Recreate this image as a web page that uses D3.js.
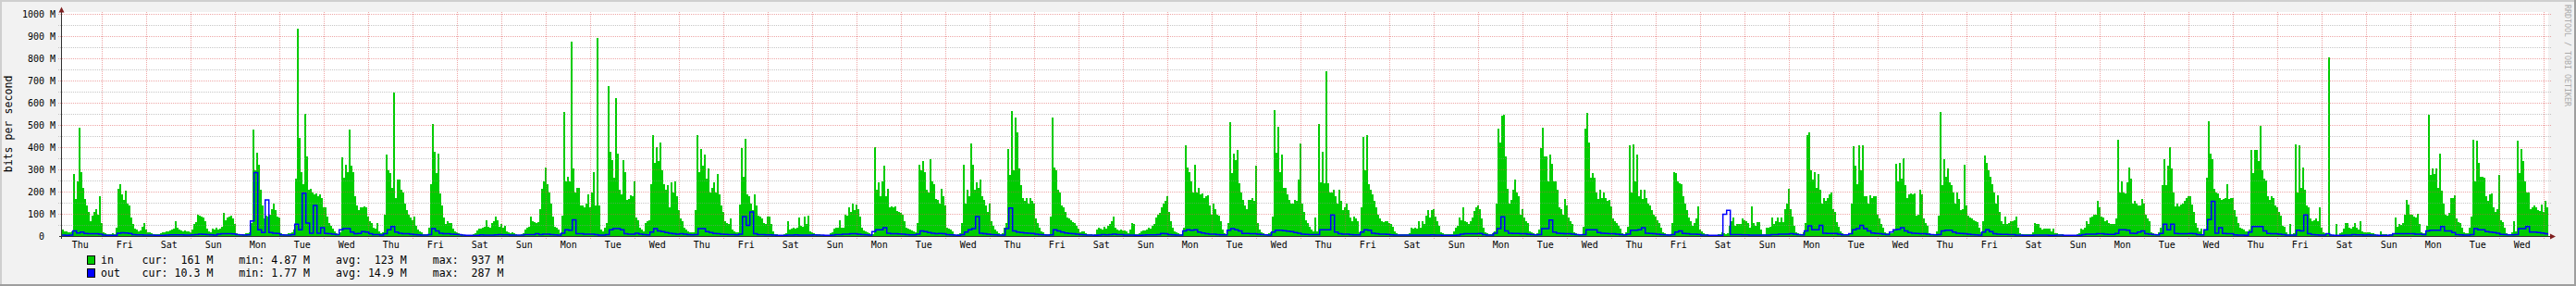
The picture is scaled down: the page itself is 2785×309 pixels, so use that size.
<!DOCTYPE html>
<html>
<head>
<meta charset="utf-8">
<style>
body { margin: 0; background: #f2f2f2; }
svg { display: block; font-family: "DejaVu Sans Mono", monospace; }
</style>
</head>
<body>
<svg width="2785" height="309"></svg>
<script src="https://cdn.jsdelivr.net/npm/d3@7"></script>
<script>
// hourly "in" traffic, Mbit/s, one row per day starting Thursday 00:00
var inTraffic = [
  [20,25,30,25,22,20,20,25,280,170,250,490,290,220,170,140,110,70,95,110,125,100,180,60],
  [20,15,12,10,12,15,12,40,215,235,190,165,205,150,140,85,55,35,30,25,28,45,60,30],
  [20,18,15,12,10,10,12,15,18,20,22,25,28,30,35,70,40,30,28,25,28,25,22,20],
  [30,55,65,100,95,90,85,70,35,25,20,35,30,40,30,35,45,105,75,85,90,95,80,55],
  [15,12,10,10,12,15,15,20,60,480,300,378,325,210,140,80,95,90,100,125,150,120,90,85],
  [15,12,10,12,15,15,20,30,260,937,445,290,235,553,360,210,215,200,190,195,180,190,175,130],
  [130,90,60,50,35,25,15,12,20,355,265,325,290,480,320,290,180,140,120,130,130,135,130,90],
  [70,60,40,35,60,25,15,20,100,370,300,285,220,650,175,255,255,210,200,150,120,100,85,75],
  [90,50,30,25,20,12,10,10,40,235,505,380,285,375,195,140,85,55,70,60,60,35,25,18],
  [15,12,10,8,6,6,6,8,12,15,28,35,35,40,45,75,45,40,60,70,90,75,45,55],
  [40,50,25,20,15,20,15,10,8,8,10,15,30,40,45,90,70,65,60,65,125,215,250,310],
  [235,200,150,90,45,40,30,15,95,560,250,270,250,878,305,200,220,220,140,140,130,150,190,130],
  [200,290,140,893,140,30,25,40,60,678,380,345,265,625,375,210,190,345,290,165,170,185,180,250],
  [85,75,40,30,25,60,70,75,235,458,333,403,340,423,300,235,210,230,130,245,200,250,180,120],
  [80,70,40,30,25,20,20,20,120,455,290,395,320,368,260,308,200,220,245,200,280,190,140,110],
  [70,60,55,80,30,25,20,20,145,400,270,441,190,180,150,120,190,140,95,90,80,60,55,90],
  [90,55,25,12,10,8,8,8,10,15,70,30,35,40,35,40,85,50,45,90,55,92,25,20],
  [14,12,10,10,7,6,6,6,8,15,20,35,40,40,75,40,40,97,95,130,110,150,120,145],
  [125,90,40,28,25,20,15,12,10,403,210,245,180,250,320,180,215,130,135,130,135,115,110,105],
  [100,70,40,35,30,28,25,20,60,325,300,340,290,210,200,350,250,235,170,165,150,215,180,140],
  [40,35,30,25,12,8,10,15,60,325,150,210,180,420,325,210,245,220,255,180,165,140,110,150],
  [70,50,30,25,15,12,15,40,60,395,278,563,300,537,470,305,230,175,160,175,150,175,160,150],
  [80,60,40,25,20,12,10,12,90,537,312,300,210,200,140,130,110,85,80,75,65,60,50,35],
  [20,25,22,15,12,10,10,8,10,30,40,35,30,45,35,50,55,70,90,40,30,28,30,28],
  [28,25,15,30,62,55,12,10,15,25,28,28,30,40,35,50,58,85,100,105,130,150,160,180],
  [110,70,40,25,20,15,12,10,40,410,312,290,250,200,325,200,218,190,195,175,180,185,140,100],
  [150,125,100,95,70,30,15,12,60,515,285,375,345,390,240,200,165,140,125,165,165,175,160,320],
  [60,30,20,15,12,12,15,20,90,570,378,493,290,368,220,220,190,165,150,150,165,160,255,417],
  [150,110,75,60,45,30,25,85,25,505,245,380,240,743,240,200,200,210,180,150,210,160,120,130],
  [150,120,85,70,90,80,70,20,130,447,300,458,235,210,190,160,130,100,80,70,65,70,70,60],
  [55,45,25,15,12,12,12,12,10,12,15,40,35,40,35,70,40,70,55,95,118,85,120,125],
  [90,70,50,20,15,12,10,10,10,12,25,40,50,85,75,130,70,65,55,70,85,115,130,140],
  [125,80,40,20,15,12,10,15,25,150,486,423,545,548,361,215,150,165,210,257,200,180,100,125],
  [85,70,60,25,18,15,12,15,30,400,490,360,360,250,370,326,250,250,210,130,125,100,170,140],
  [85,70,55,20,14,12,12,12,45,486,558,425,265,285,265,200,170,210,175,200,175,160,165,135],
  [80,70,60,50,35,14,12,20,45,410,200,414,250,370,180,210,170,210,175,150,140,120,100,90],
  [75,60,40,20,14,12,12,12,60,290,285,250,240,235,180,150,120,85,70,50,60,80,136,30],
  [25,15,12,10,8,8,8,8,8,10,12,20,15,12,15,50,70,85,50,55,55,55,80,75],
  [70,60,40,136,60,50,65,65,30,12,12,40,40,45,85,55,70,85,65,85,65,125,150,213],
  [125,90,50,20,14,12,12,20,60,458,470,300,257,290,220,280,210,150,175,160,175,190,200,125],
  [110,65,45,25,14,12,12,10,12,150,407,320,235,412,300,412,180,180,150,187,175,180,180,100],
  [80,55,40,20,15,15,15,15,30,326,250,330,260,354,230,175,190,195,190,195,95,100,210,190],
  [80,60,50,15,12,12,12,25,95,560,230,348,270,305,245,230,200,150,200,170,120,125,323,140],
  [95,85,80,75,70,65,40,20,70,365,330,300,270,235,200,150,187,110,70,55,90,55,60,70],
  [70,75,90,40,15,10,10,10,10,10,12,20,62,55,55,40,30,35,35,35,35,25,35,15],
  [14,12,12,10,8,8,8,8,8,8,8,10,14,35,30,40,70,55,86,90,97,100,162,130],
  [90,85,70,75,60,55,55,55,80,437,200,250,200,195,245,312,260,150,160,150,140,140,170,150],
  [100,80,70,20,14,12,12,20,40,230,347,230,320,403,305,200,135,150,135,145,150,160,175,180],
  [180,145,110,60,40,25,35,12,30,265,517,375,350,215,200,195,175,165,170,175,235,170,175,175],
  [120,90,60,40,35,30,25,25,30,390,285,390,390,340,496,300,260,253,183,165,183,175,140,130],
  [110,95,50,45,20,12,58,12,15,414,200,410,220,312,210,140,132,80,70,75,80,70,132,40],
  [20,15,12,808,10,8,8,58,8,15,20,35,60,60,40,35,45,62,40,30,70,25,20,20],
  [20,18,15,15,12,8,8,25,12,10,10,8,12,10,15,86,45,55,52,60,97,165,145,100],
  [100,90,85,104,55,20,15,15,50,546,278,305,280,305,220,372,208,150,100,95,105,175,175,187],
  [80,65,60,40,20,15,15,40,90,437,250,430,333,270,270,265,180,160,190,195,130,110,125,278],
  [75,65,40,15,12,12,20,70,25,430,285,392,340,250,200,200,125,130,140,130,120,115,145,110],
  [160,130,161]
];

// two-hourly "out" traffic, Mbit/s
var outTraffic = [
  [6,6,5,6,25,16,20,14,12,13,12,10],
  [6,5,5,5,15,17,16,14,8,7,7,6],
  [6,6,5,5,5,6,7,7,7,7,6,6],
  [7,8,10,9,8,7,6,10,12,12,12,11],
  [8,7,6,7,70,287,30,18,165,18,15,14],
  [7,6,6,8,55,30,195,60,15,140,15,40],
  [14,12,10,8,30,35,35,20,12,14,22,20],
  [12,8,8,6,12,30,45,20,15,12,12,10],
  [8,7,6,6,8,35,25,15,13,12,10,9],
  [8,6,5,5,5,5,7,6,6,6,7,8],
  [7,7,6,6,6,6,8,8,8,12,8,10],
  [10,8,7,6,15,30,28,75,12,12,10,10],
  [10,8,6,6,8,30,35,35,30,12,10,10],
  [15,10,8,7,20,35,25,22,18,15,12,10],
  [12,10,8,7,8,35,35,22,18,14,12,10],
  [9,8,8,7,10,90,50,110,12,8,8,7],
  [7,6,5,5,5,6,6,7,6,6,6,6],
  [7,6,6,5,5,6,8,8,10,10,12,12],
  [10,8,7,6,22,30,30,40,15,12,12,11],
  [10,8,7,7,10,25,22,18,15,12,14,12],
  [8,7,6,5,8,20,30,35,90,15,12,10],
  [8,7,6,6,35,128,25,20,18,16,15,14],
  [10,8,7,6,7,30,25,20,16,14,12,10],
  [8,7,6,6,5,6,8,7,8,10,8,8],
  [6,6,6,5,5,6,7,7,7,8,14,12],
  [8,7,6,6,25,30,28,30,20,16,12,10],
  [10,8,7,7,28,35,30,25,14,14,13,12],
  [10,8,7,6,20,28,28,26,24,22,18,15],
  [10,9,8,8,8,30,30,30,97,20,12,10],
  [10,8,7,7,20,30,28,15,12,10,10,9],
  [7,6,6,6,6,6,6,6,6,6,6,7],
  [6,6,5,5,5,5,6,10,12,12,12,12],
  [14,8,6,6,15,35,89,25,15,14,14,13],
  [12,10,8,7,8,35,35,74,20,15,14,12],
  [12,10,8,7,8,30,30,30,18,15,14,13],
  [12,10,8,7,10,28,28,30,40,15,14,12],
  [10,8,7,6,8,20,25,14,12,10,10,9],
  [6,6,5,5,5,5,100,118,8,8,8,7],
  [7,6,6,6,6,6,6,8,8,10,10,10],
  [12,10,8,7,25,48,30,30,50,15,14,14],
  [14,10,7,7,12,30,35,50,35,25,16,14],
  [12,10,8,20,30,32,40,25,18,15,14,12],
  [12,10,8,7,8,25,28,28,20,15,14,13],
  [10,8,7,6,20,30,22,12,10,9,9,8],
  [8,6,6,5,5,5,6,6,6,6,5,5],
  [6,6,5,5,5,5,5,8,10,10,10,12],
  [12,10,9,9,14,30,30,28,15,14,20,25],
  [12,10,8,7,14,55,30,55,14,13,12,12],
  [14,12,8,7,30,76,158,15,40,14,13,12],
  [7,6,6,5,20,45,45,45,25,14,12,12],
  [10,8,6,6,6,28,25,97,12,8,7,6],
  [6,12,6,5,5,5,6,6,8,7,7,6],
  [7,6,6,5,5,5,6,12,12,12,12,12],
  [12,10,10,8,25,28,28,28,45,25,25,18],
  [8,7,6,6,8,35,30,30,22,20,18,15],
  [9,8,7,7,8,35,35,45,20,20,18,16],
  [12,10.3]
];

var yTicks = [0, 100, 200, 300, 400, 500, 600, 700, 800, 900, 1000];
var seriesNames = ["in", "out"];
var statNames = ["cur:", "min:", "avg:", "max:"];
var inStats = ["161 M", "4.87 M", "123 M", "937 M"];
var outStats = ["10.3 M", "1.77 M", "14.9 M", "287 M"];

var svg = d3.select("svg"),
    width = +svg.attr("width"),
    height = +svg.attr("height");

var inColor = "#00cc00", outColor = "#0000ff";

var hour = 3600 * 1000,
    start = Date.UTC(2013, 0, 3),
    t0 = new Date(start + 2.15 * hour),
    t1 = new Date(+t0 + 56 * 24 * hour);

var x = d3.scaleUtc().domain([t0, t1]).range([67, 2755]),
    y = d3.scaleLinear().domain([0, 1000]).range([255.5, 15.5]);

function series(values, step) {
  var pts = values.map(function(v, i) { return {t: new Date(start + i * step * hour), v: v}; });
  pts.push({t: new Date(start + values.length * step * hour), v: values[values.length - 1]});
  return pts;
}
var inPts = series(inTraffic.flat(), 1),
    outPts = series(outTraffic.flat(), 2);

// frame
svg.append("rect").attr("width", width).attr("height", height).attr("fill", "#f2f2f2");
svg.append("rect").attr("width", width).attr("height", 2).attr("fill", "#cfcfcf");
svg.append("rect").attr("width", 2).attr("height", height).attr("fill", "#cfcfcf");
svg.append("rect").attr("y", height - 2).attr("width", width).attr("height", 2).attr("fill", "#9e9e9e");
svg.append("rect").attr("x", width - 2).attr("width", 2).attr("height", height).attr("fill", "#9e9e9e");

// canvas
svg.append("rect").attr("x", 67).attr("y", 13).attr("width", 2688).attr("height", 243).attr("fill", "#fff");

svg.append("clipPath").attr("id", "plot")
  .append("rect").attr("x", 67).attr("y", 0).attr("width", 2688).attr("height", 256);

svg.append("path")
    .datum(inPts)
    .attr("clip-path", "url(#plot)")
    .attr("fill", inColor)
    .attr("shape-rendering", "crispEdges")
    .attr("d", d3.area().curve(d3.curveStepAfter)
        .x(function(d) { return x(d.t); })
        .y0(y(0))
        .y1(function(d) { return y(d.v); }));

// grid
var grid = svg.append("g").attr("shape-rendering", "crispEdges");
grid.selectAll(".minor")
  .data(d3.range(50, 1000, 100))
  .enter().append("line")
    .attr("x1", 63).attr("x2", 2758)
    .attr("y1", function(d) { return Math.floor(y(d)) + 0.5; })
    .attr("y2", function(d) { return Math.floor(y(d)) + 0.5; })
    .attr("stroke", "rgba(143,143,143,0.5)")
    .attr("stroke-dasharray", "1,1");
grid.selectAll(".major")
  .data(yTicks.slice(1))
  .enter().append("line")
    .attr("x1", 63).attr("x2", 2758)
    .attr("y1", function(d) { return Math.floor(y(d)) + 0.5; })
    .attr("y2", function(d) { return Math.floor(y(d)) + 0.5; })
    .attr("stroke", "rgba(222,79,79,0.5)")
    .attr("stroke-dasharray", "1,1");
grid.selectAll(".day")
  .data(d3.utcDay.range(t0, t1))
  .enter().append("line")
    .attr("x1", function(d) { return Math.floor(x(d)) + 0.5; })
    .attr("x2", function(d) { return Math.floor(x(d)) + 0.5; })
    .attr("y1", 13).attr("y2", 258)
    .attr("stroke", "rgba(222,79,79,0.5)")
    .attr("stroke-dasharray", "1,1");

svg.append("path")
    .datum(outPts)
    .attr("clip-path", "url(#plot)")
    .attr("fill", "none")
    .attr("stroke", outColor)
    .attr("stroke-width", 1.5)
    .attr("d", d3.line().curve(d3.curveStepAfter)
        .x(function(d) { return x(d.t); })
        .y(function(d) { return y(d.v); }));

// axes
var axis = svg.append("g").attr("shape-rendering", "crispEdges");
axis.append("line").attr("x1", 64).attr("x2", 2758).attr("y1", 255.5).attr("y2", 255.5).attr("stroke", "#303030");
axis.append("line").attr("x1", 66.5).attr("x2", 66.5).attr("y1", 258).attr("y2", 11).attr("stroke", "#303030");
svg.append("path").attr("d", "M63.5,13.5L66.5,7.5L69.5,13.5Z").attr("fill", "#801f1f");
svg.append("path").attr("d", "M2757,252.5L2763,255.5L2757,258.5Z").attr("fill", "#801f1f");

svg.append("g").selectAll("text")
  .data(yTicks)
  .enter().append("text")
    .attr("x", function(d) { return d ? 60 : 48; })
    .attr("y", function(d) { return y(d) + 3.6; })
    .attr("text-anchor", "end")
    .attr("font-size", "10px")
    .text(function(d) { return d ? d + " M" : "0"; });

var fmtDay = d3.utcFormat("%a");
svg.append("g").selectAll("text")
  .data(d3.utcDay.range(d3.utcDay.floor(t0), t1).filter(function(d) { return x(d3.utcHour.offset(d, 12)) < 2755; }))
  .enter().append("text")
    .attr("x", function(d) { return x(d3.utcHour.offset(d, 12)); })
    .attr("y", 268.3)
    .attr("text-anchor", "middle")
    .attr("font-size", "10px")
    .text(function(d) { return fmtDay(d); });

svg.append("text")
    .attr("transform", "translate(12.5,134) rotate(-90)")
    .attr("text-anchor", "middle")
    .attr("font-size", "11.6px")
    .text("bits per second");

svg.append("text")
    .attr("transform", "translate(2772.5,60) rotate(90)")
    .attr("text-anchor", "middle")
    .attr("font-size", "8.3px")
    .attr("fill", "#aaa")
    .text("RRDTOOL / TOBI OETIKER");

// legend
function statLine(vals) {
  return statNames.map(function(n, i) { return n + " " + vals[i].padStart(6, " "); }).join("    ");
}
var legend = svg.append("g").selectAll("g")
  .data([{name: seriesNames[0], color: inColor, stats: inStats},
         {name: seriesNames[1], color: outColor, stats: outStats}])
  .enter().append("g")
    .attr("transform", function(d, i) { return "translate(0," + (i * 14) + ")"; });
legend.append("rect")
    .attr("x", 94.5).attr("y", 276.5).attr("width", 8).attr("height", 9)
    .attr("fill", function(d) { return d.color; })
    .attr("stroke", "#000")
    .attr("shape-rendering", "crispEdges");
legend.append("text")
    .attr("x", 109).attr("y", 285)
    .attr("font-size", "11.6px")
    .text(function(d) { return d.name; });
legend.append("text")
    .attr("x", 153.6).attr("y", 285)
    .attr("font-size", "11.6px")
    .style("white-space", "pre")
    .text(function(d) { return statLine(d.stats); });
</script>
</body>
</html>
